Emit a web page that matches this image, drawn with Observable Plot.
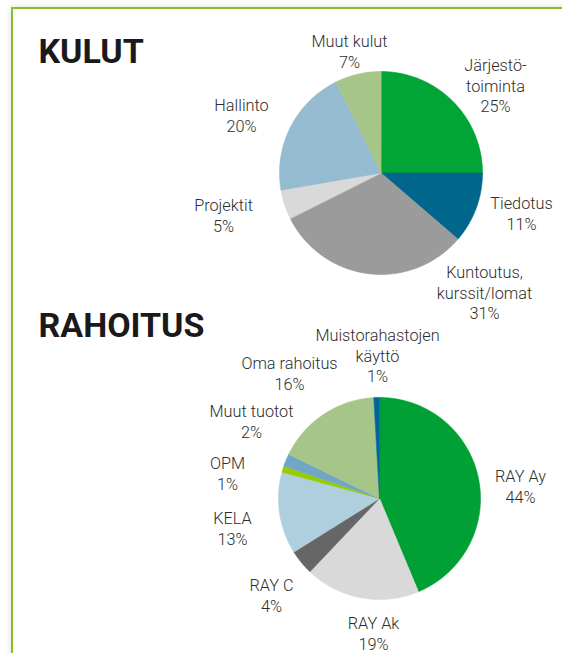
<!DOCTYPE html>
<html>
<head>
<meta charset="utf-8">
<script src="https://cdn.jsdelivr.net/npm/d3@7"></script>
<script src="https://cdn.jsdelivr.net/npm/@observablehq/plot@0.6"></script>
<style>
  html, body { margin: 0; padding: 0; background: #ffffff; }
  body { width: 562px; height: 653px; position: relative; overflow: hidden; }
  #frame {
    position: absolute; left: 11px; top: 7px; width: 600px; height: 700px;
    border-left: 2px solid #7fc31c; border-top: 2px solid #7fc31c;
    box-shadow: 0 0 7px rgba(0,0,0,0.13); background: #fff;
  }
  #chart { position: absolute; left: 0; top: 0; }
</style>
</head>
<body>
<div id="frame"></div>
<div id="chart"></div>
<script>
// ---- data ----
const kulutCategories = ["Järjestö-\ntoiminta", "Tiedotus", "Kuntoutus,\nkurssit/lomat", "Projektit", "Hallinto", "Muut kulut"];
const kulutValues = [25, 11.3, 31.3, 4.7, 20.4, 7.3];
const kulutLabels = ["25%", "11%", "31%", "5%", "20%", "7%"];
const kulutColors = ["#00a535", "#00668c", "#9b9b9b", "#d9d9d9", "#94bbd0", "#a6c689"];

const rahoitusCategories = ["RAY Ay", "RAY Ak", "RAY C", "KELA", "OPM", "Muut tuotot", "Oma rahoitus", "Muistorahastojen\nkäyttö"];
const rahoitusValues = [43.7, 18.4, 4.0, 13.1, 1.0, 2.0, 16.9, 0.9];
const rahoitusLabels = ["44%", "19%", "4%", "13%", "1%", "2%", "16%", "1%"];
const rahoitusColors = ["#00a034", "#d9d9d9", "#666666", "#afcfdf", "#99cc00", "#71a7c4", "#a6c689", "#00669a"];

const titles = ["KULUT", "RAHOITUS"];

// ---- layout (pixel space) ----
const W = 562, H = 653;
const pies = [
  {cx: 380.5, cy: 172.5, r: 101.5},
  {cx: 379, cy: 498, r: 101}
];
// label anchor: center x, baseline of first line
const kulutLabelPos = [[495, 67], [521, 205], [484, 274], [223, 207], [241, 107], [349, 43]];
const rahoitusLabelPos = [[520, 478], [373, 625], [271, 587], [232, 520], [227, 465], [251, 413], [289, 365], [377, 337]];
const titlePos = [[38, 62.5], [38, 336]];

const FS = 16.3;

function slices(cats, vals, cols, pie) {
  const arcs = d3.pie().sort(null).value(d => d)(vals);
  const pts = [];
  arcs.forEach((a, i) => {
    const name = cats[i];
    pts.push({name, color: cols[i], x: pie.cx, y: pie.cy});
    const n = Math.max(2, Math.ceil((a.endAngle - a.startAngle) / (Math.PI / 360)));
    for (let k = 0; k <= n; k++) {
      const t = a.startAngle + (a.endAngle - a.startAngle) * k / n;
      pts.push({name, color: cols[i], x: pie.cx + pie.r * Math.sin(t), y: pie.cy - pie.r * Math.cos(t)});
    }
  });
  return pts;
}

function labels(cats, labs, pos) {
  return cats.map((c, i) => ({text: c + "\n" + labs[i], x: pos[i][0], y: pos[i][1] - 0.71 * FS}));
}

const slices1 = slices(kulutCategories, kulutValues, kulutColors, pies[0]);
const slices2 = slices(rahoitusCategories, rahoitusValues, rahoitusColors, pies[1]).map(d => ({...d, name: "r-" + d.name}));
const labels1 = labels(kulutCategories, kulutLabels, kulutLabelPos);
const labels2 = labels(rahoitusCategories, rahoitusLabels, rahoitusLabelPos);
const titleData = titles.map((t, i) => ({text: t, x: titlePos[i][0], y: titlePos[i][1]}));

const chart = Plot.plot({
  width: W, height: H,
  margin: 0,
  x: {domain: [0, W], range: [0, W], axis: null},
  y: {domain: [0, H], range: [0, H], axis: null},
  style: {background: "transparent", overflow: "visible"},
  marks: [
    Plot.line(slices1, {x: "x", y: "y", z: "name", fill: "color", stroke: "color", strokeWidth: 0.6, curve: "linear-closed"}),
    Plot.line(slices2, {x: "x", y: "y", z: "name", fill: "color", stroke: "color", strokeWidth: 0.6, curve: "linear-closed"}),
    Plot.text(labels1.concat(labels2), {
      x: "x", y: "y", text: "text", textAnchor: "middle", lineAnchor: "top",
      lineHeight: 1.28, fontSize: FS, fontWeight: 300, fill: "#2e2e2e", fontFamily: "Roboto, 'Liberation Sans', sans-serif"
    }),
    Plot.text(titleData, {
      x: "x", y: "y", text: "text", textAnchor: "start", lineAnchor: "bottom",
      fontSize: 34, fontWeight: "bold", fill: "#1a1a1a", fontFamily: "Roboto, 'Liberation Sans', sans-serif"
    })
  ]
});
document.getElementById("chart").appendChild(chart);
</script>
</body>
</html>
